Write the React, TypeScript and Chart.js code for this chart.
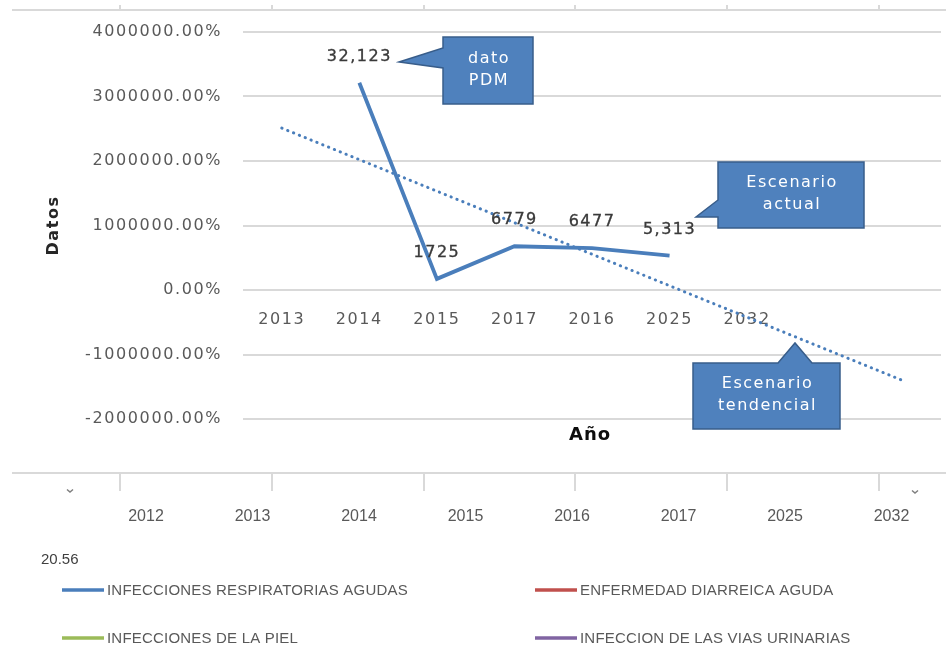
import React, { useEffect, useRef } from "react";
import { Chart, registerables } from "chart.js";

Chart.register(...registerables);

// ---------- data ----------
const categories = ["2013", "2014", "2015", "2017", "2016", "2025", "2032", "", ""];
const iraValues = [null, 32123, 1725, 6779, 6477, 5313, null, null, null];
const iraLabels = ["", "32,123", "1725", "6779", "6477", "5,313", "", "", ""];
// linear trend ("Escenario tendencial"): start and end values
const trendValues = [25100, null, null, null, null, null, null, null, -14000];
const edaValues = [null, null, null, null, null, null, null, null, null];
const pielValues = [null, null, null, null, null, null, null, null, null];
const viasValues = [null, null, null, null, null, null, null, null, null];
const seriesNames = [
  "INFECCIONES RESPIRATORIAS AGUDAS",
  "ENFERMEDAD DIARREICA AGUDA",
  "INFECCIONES DE LA PIEL",
  "INFECCION DE LAS VIAS URINARIAS",
];
const seriesColors = ["#4a7ebb", "#c0504d", "#9bbb59", "#8064a2"];
const yMin = -20000;
const yMax = 40000;
const yStep = 10000;
const bottomYears = ["2012", "2013", "2014", "2015", "2016", "2017", "2025", "2032"];
const noteText = "20.56";
const yTitle = "Datos";
const xTitle = "Año";

type Callout = {
  lines: string[];
  box: [number, number, number, number];
  pointer: { side: "left" | "top"; a: number; b: number; tip: [number, number] };
};
const callouts: Callout[] = [
  { lines: ["dato", "PDM"], box: [443, 37, 533, 104], pointer: { side: "left", a: 48, b: 68, tip: [399, 62] } },
  { lines: ["Escenario", "actual"], box: [718, 162, 864, 228], pointer: { side: "left", a: 200, b: 217, tip: [696, 217] } },
  { lines: ["Escenario", "tendencial"], box: [693, 363, 840, 429], pointer: { side: "top", a: 778, b: 812, tip: [795, 343] } },
];

const FONT = "'DejaVu Sans', sans-serif";
const LIB = "'Liberation Sans', Arial, sans-serif";

const overlayPlugin = {
  id: "overlay",
  beforeDraw(chart: any) {
    chart.ctx.letterSpacing = "1.6px";
  },
  afterDraw(chart: any) {
    const ctx = chart.ctx as CanvasRenderingContext2D & { letterSpacing: string };
    const area = chart.chartArea;
    ctx.save();

    // data labels
    const meta = chart.getDatasetMeta(0);
    ctx.letterSpacing = "1.5px";
    ctx.font = `16px ${FONT}`;
    ctx.fillStyle = "#3a3a3a";
    ctx.strokeStyle = "#3a3a3a";
    ctx.lineWidth = 0.35;
    ctx.textAlign = "center";
    ctx.textBaseline = "middle";
    meta.data.forEach((pt: any, i: number) => {
      const t = iraLabels[i];
      if (!t || iraValues[i] == null) return;
      ctx.fillText(t, pt.x, pt.y - 26);
      ctx.strokeText(t, pt.x, pt.y - 26);
    });

    // x title
    ctx.font = `bold 18px ${FONT}`;
    ctx.fillStyle = "#0d0d0d";
    ctx.letterSpacing = "1px";
    ctx.fillText(xTitle, (area.left + area.right) / 2 - 2, 435);

    // callouts
    callouts.forEach((c) => {
      const [x0, y0, x1, y1] = c.box;
      const p = c.pointer;
      ctx.beginPath();
      if (p.side === "left") {
        ctx.moveTo(x0, y0);
        ctx.lineTo(x1, y0);
        ctx.lineTo(x1, y1);
        ctx.lineTo(x0, y1);
        ctx.lineTo(x0, p.b);
        ctx.lineTo(p.tip[0], p.tip[1]);
        ctx.lineTo(x0, p.a);
      } else {
        ctx.moveTo(x0, y0);
        ctx.lineTo(p.a, y0);
        ctx.lineTo(p.tip[0], p.tip[1]);
        ctx.lineTo(p.b, y0);
        ctx.lineTo(x1, y0);
        ctx.lineTo(x1, y1);
        ctx.lineTo(x0, y1);
      }
      ctx.closePath();
      ctx.fillStyle = "#4f81bd";
      ctx.fill();
      ctx.strokeStyle = "#385d8a";
      ctx.lineWidth = 1.5;
      ctx.stroke();
      ctx.fillStyle = "#ffffff";
      ctx.font = `16px ${FONT}`;
      ctx.letterSpacing = "1.5px";
      const cx = (x0 + x1) / 2;
      const cy = (y0 + y1) / 2;
      const lh = 22;
      c.lines.forEach((l, i) => {
        ctx.fillText(l, cx + 1, cy - ((c.lines.length - 1) * lh) / 2 + i * lh - 1);
      });
    });

    // decorative axis lines of the underlying chart
    ctx.letterSpacing = "0px";
    ctx.strokeStyle = "#d9d9d9";
    ctx.lineWidth = 2;
    const tickXs = [120, 272, 424, 575, 727, 879];
    ctx.beginPath();
    ctx.moveTo(12, 10);
    ctx.lineTo(946, 10);
    ctx.moveTo(12, 473);
    ctx.lineTo(946, 473);
    tickXs.forEach((x) => {
      ctx.moveTo(x, 5);
      ctx.lineTo(x, 10);
      ctx.moveTo(x, 473);
      ctx.lineTo(x, 491);
    });
    ctx.stroke();
    // small chevrons
    ctx.strokeStyle = "#7f7f7f";
    ctx.lineWidth = 1.5;
    [[70, 491], [915, 492]].forEach(([x, y]) => {
      ctx.beginPath();
      ctx.moveTo(x - 3, y - 1.5);
      ctx.lineTo(x, y + 1);
      ctx.lineTo(x + 3, y - 1.5);
      ctx.stroke();
    });

    // bottom year labels
    ctx.font = `16px ${LIB}`;
    ctx.fillStyle = "#595959";
    ctx.textAlign = "center";
    bottomYears.forEach((y, i) => {
      ctx.fillText(y, 146 + i * 106.5, 517);
    });

    // note
    ctx.textAlign = "left";
    ctx.font = `15px ${LIB}`;
    ctx.fillStyle = "#404040";
    ctx.fillText(noteText, 41, 560);

    // legend
    const slots = [
      [62, 590],
      [535, 590],
      [62, 638],
      [535, 638],
    ];
    seriesNames.forEach((name, i) => {
      const [x, y] = slots[i];
      ctx.strokeStyle = seriesColors[i];
      ctx.lineWidth = 3.5;
      ctx.beginPath();
      ctx.moveTo(x, y);
      ctx.lineTo(x + 42, y);
      ctx.stroke();
      ctx.fillStyle = "#595959";
      ctx.font = `15px ${LIB}`;
      ctx.letterSpacing = "0.2px";
      ctx.fillText(name, x + 45, y + 1);
    });

    ctx.restore();
  },
};

export default function App() {
  const ref = useRef<HTMLCanvasElement | null>(null);
  useEffect(() => {
    if (!ref.current) return;
    Chart.defaults.font.family = FONT;
    const chart = new Chart(ref.current, {
      type: "line",
      data: {
        labels: categories,
        datasets: [
          {
            label: seriesNames[0],
            data: iraValues,
            borderColor: seriesColors[0],
            backgroundColor: seriesColors[0],
            borderWidth: 3.8,
            pointRadius: 0,
            tension: 0,
          },
          { label: seriesNames[1], data: edaValues, borderColor: seriesColors[1], pointRadius: 0 },
          { label: seriesNames[2], data: pielValues, borderColor: seriesColors[2], pointRadius: 0 },
          { label: seriesNames[3], data: viasValues, borderColor: seriesColors[3], pointRadius: 0 },
          {
            label: "Tendencia",
            data: trendValues,
            borderColor: "#4a7ebb",
            borderWidth: 3,
            borderDash: [0.3, 6],
            borderCapStyle: "round",
            pointRadius: 0,
            spanGaps: true,
          },
        ],
      } as any,
      options: {
        responsive: false,
        animation: false,
        devicePixelRatio: 1,
        layout: { padding: { left: 0, top: 32, right: 5, bottom: 229 } },
        plugins: { legend: { display: false }, tooltip: { enabled: false } },
        scales: {
          x: {
            type: "category",
            offset: true,
            position: { y: 0 } as any,
            afterFit: (s: any) => {
              s.height = 0;
            },
            grid: { display: false },
            border: { display: false },
            ticks: { color: "#595959", font: { size: 16 }, padding: 12, autoSkip: false, maxRotation: 0 },
          },
          y: {
            min: yMin,
            max: yMax,
            afterFit: (s: any) => {
              s.width = 243;
            },
            ticks: {
              stepSize: yStep,
              color: "#595959",
              font: { size: 16 },
              padding: 21,
              callback: (v: any) => (Number(v) * 100).toFixed(2) + "%",
            },
            grid: { color: "#d9d9d9", lineWidth: 2, drawTicks: false },
            border: { display: false },
            title: {
              display: true,
              text: yTitle,
              color: "#262626",
              font: { size: 16, weight: "bold" },
              padding: { top: 44, bottom: 0 },
            },
          },
        },
      } as any,
      plugins: [overlayPlugin],
    });
    return () => chart.destroy();
  }, []);
  return (
    <div style={{ position: "absolute", left: 0, top: 0, width: 946, height: 648, background: "#fff" }}>
      <canvas ref={ref} width={946} height={648} style={{ width: 946, height: 648, display: "block" }} />
    </div>
  );
}
